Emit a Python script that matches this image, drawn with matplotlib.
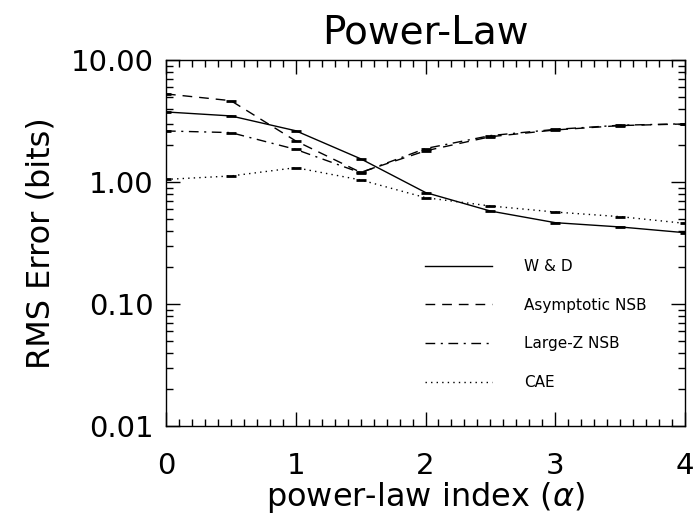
import matplotlib
matplotlib.use("Agg")
import matplotlib.pyplot as plt
from matplotlib.ticker import MultipleLocator, LogLocator, FormatStrFormatter, NullFormatter

# ============================================================
# DATA
# ============================================================

alpha = [0.0, 0.5, 1.0, 1.5, 2.0, 2.5, 3.0, 3.5, 4.0]

wd = [3.75, 3.48, 2.63, 1.55, 0.82, 0.578, 0.464, 0.428, 0.384]
asym_nsb = [5.27, 4.64, 2.17, 1.20, 1.80, 2.35, 2.67, 2.90, 2.99]
largez_nsb = [2.62, 2.54, 1.85, 1.19, 1.88, 2.40, 2.70, 2.92, 3.00]
cae = [1.05, 1.12, 1.31, 1.04, 0.744, 0.636, 0.567, 0.520, 0.458]

labels = ["W & D", "Asymptotic NSB", "Large-Z NSB", "CAE"]
series = [wd, asym_nsb, largez_nsb, cae]
styles = ["-", (0, (7, 5)), (0, (7, 4, 1.5, 4)), (0, (1, 3))]

# ============================================================
# PLOT
# ============================================================

plt.rcParams["font.family"] = "DejaVu Sans"

fig = plt.figure(figsize=(6.93, 5.18), dpi=100)
ax = fig.add_axes([0.2395, 0.1776, 0.749, 0.7066])

for vals, lab, ls in zip(series, labels, styles):
    ax.plot(alpha, vals, color="black", linewidth=1.0, linestyle=ls, label=lab)
    ax.plot(alpha, vals, color="black", linestyle="none", marker="_",
            markersize=7, markeredgewidth=2.0)

ax.set_yscale("log")
ax.set_xlim(0, 4)
ax.set_ylim(0.01, 10)

ax.xaxis.set_major_locator(MultipleLocator(1))
ax.xaxis.set_minor_locator(MultipleLocator(0.1))
ax.yaxis.set_major_locator(LogLocator(base=10, numticks=10))
ax.yaxis.set_minor_locator(LogLocator(base=10, subs=range(2, 10), numticks=10))
ax.yaxis.set_major_formatter(FormatStrFormatter("%.2f"))
ax.yaxis.set_minor_formatter(NullFormatter())

ax.tick_params(which="both", direction="in", top=True, right=True,
               width=1.0, labelsize=21, colors="black")
ax.tick_params(which="major", length=10)
ax.tick_params(which="minor", length=5)
ax.tick_params(axis="x", which="major", pad=19)
ax.tick_params(axis="y", which="major", pad=9)

for sp in ax.spines.values():
    sp.set_linewidth(1.0)

ax.set_xlabel("power-law index ($\\alpha$)", fontsize=23, labelpad=0)
ax.set_ylabel("RMS Error (bits)", fontsize=23, labelpad=10)
ax.set_title("Power-Law", fontsize=28, pad=12)

ax.legend(loc="upper left", bbox_to_anchor=(0.499, 0.456), frameon=False,
          fontsize=11, handlelength=4.4, handletextpad=2.1,
          labelspacing=1.55, borderpad=0, borderaxespad=0)

plt.savefig("out.png", dpi=100)
